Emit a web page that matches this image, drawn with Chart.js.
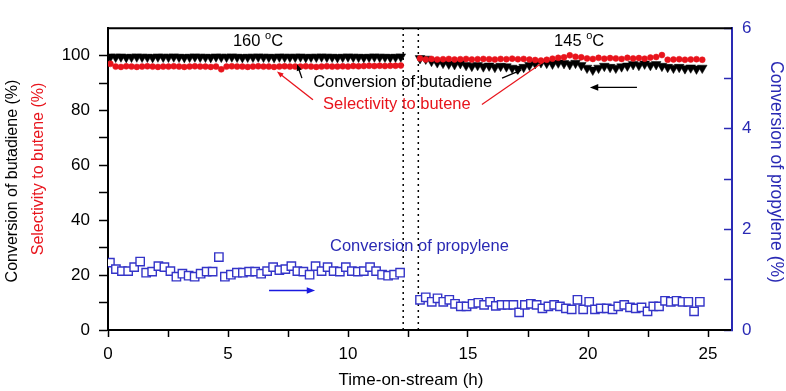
<!DOCTYPE html>
<html>
<head>
<meta charset="utf-8">
<script src="https://cdn.jsdelivr.net/npm/chart.js@4.4.1/dist/chart.umd.min.js"></script>
<style>
  body { margin: 0; background: #fff; }
  #chart { display: block; }
</style>
</head>
<body>
<canvas id="chart" width="786" height="391"></canvas>
<script>
// Time (h) for butadiene conversion / butene selectivity points
const timeMain = [
  0.10, 0.32, 0.54, 0.76, 0.98, 1.20, 1.42, 1.64, 1.86, 2.08, 2.30, 2.52, 2.74, 2.96,
  3.18, 3.40, 3.62, 3.84, 4.06, 4.28, 4.50, 4.72, 4.94, 5.16, 5.38, 5.60, 5.82, 6.04,
  6.26, 6.48, 6.70, 6.92, 7.14, 7.36, 7.58, 7.80, 8.02, 8.24, 8.46, 8.68, 8.90, 9.12,
  9.34, 9.56, 9.78, 10.00, 10.22, 10.44, 10.66, 10.88, 11.10, 11.32, 11.54, 11.76, 11.98, 12.20,
  13.00, 13.24, 13.48, 13.72, 13.96, 14.20, 14.44, 14.68, 14.92, 15.16, 15.40, 15.64, 15.88,
  16.12, 16.36, 16.60, 16.84, 17.08, 17.32, 17.56, 17.80, 18.04, 18.28, 18.52, 18.76, 19.00,
  19.24, 19.48, 19.72, 19.96, 20.20, 20.44, 20.68, 20.92, 21.16, 21.40, 21.64, 21.88, 22.12,
  22.36, 22.60, 22.84, 23.08, 23.32, 23.56, 23.80, 24.04, 24.28, 24.52, 24.76
];

// Conversion of butadiene (%)
const butadieneConv = [
  99.6, 99.5, 99.6, 99.4, 99.5, 99.6, 99.5, 99.5, 99.4, 99.6, 99.5, 99.5, 99.6, 99.5,
  99.4, 99.5, 99.6, 99.5, 99.5, 99.4, 99.6, 99.5, 99.5, 99.6, 99.5, 99.4, 99.5, 99.5,
  99.6, 99.5, 99.5, 99.4, 99.6, 99.5, 99.5, 99.5, 99.6, 99.4, 99.5, 99.5, 99.6, 99.5,
  99.5, 99.4, 99.5, 99.6, 99.5, 99.5, 99.4, 99.5, 99.6, 99.5, 99.5, 99.4, 99.5, 99.6,
  99.0, 98.8, 98.0, 97.5, 97.3, 97.0, 96.8, 97.2, 96.5, 96.2, 96.5, 96.0, 96.3,
  95.8, 96.2, 96.0, 95.5, 95.2, 95.8, 96.5, 97.2, 97.5, 97.3, 97.0, 97.4, 97.2,
  96.8, 97.3, 96.5, 95.5, 94.8, 95.5, 96.2, 95.8, 95.5, 96.0, 96.3, 96.8, 96.5,
  97.0, 96.5, 96.8, 96.2, 95.8, 95.5, 95.8, 95.3, 95.6, 95.2, 95.5
];

// Selectivity to butene (%)
const buteneSel = [
  97.0, 96.0, 95.9, 96.1, 96.0, 95.9, 96.0, 96.1, 96.0, 95.9, 96.0, 96.0, 96.1, 96.0,
  95.9, 96.0, 96.1, 96.0, 96.0, 95.9, 96.0, 95.0, 96.0, 96.1, 96.0, 96.0, 95.9, 96.0,
  96.1, 96.0, 96.0, 95.9, 96.0, 96.1, 96.0, 96.0, 96.0, 96.1, 96.0, 95.9, 96.0, 96.1,
  96.0, 96.0, 96.1, 96.0, 96.2, 96.1, 96.2, 96.3, 96.2, 96.3, 96.2, 96.3, 96.3, 96.4,
  99.0, 98.6, 98.8, 98.6, 98.7, 98.8, 98.6, 98.7, 98.8, 98.6, 98.7, 98.8, 98.7,
  98.6, 98.8, 98.7, 98.9, 98.7, 98.8, 98.6, 98.4, 98.2, 98.5, 98.9, 99.2, 99.4,
  100.1, 99.6, 99.4, 99.0, 98.8, 99.2, 98.9, 99.1, 99.0, 98.8, 99.2, 99.0, 99.1,
  98.9, 99.3, 99.5, 100.2, 98.5, 98.6, 98.7, 98.5, 98.6, 98.7, 98.5
];

// Time (h) for propylene conversion points
const timeProp = [
  0.08, 0.33, 0.58, 0.84, 1.09, 1.34, 1.59, 1.84, 2.10, 2.35, 2.60, 2.85, 3.10, 3.36,
  3.61, 3.86, 4.11, 4.36, 4.62, 4.87, 5.12, 5.37, 5.62, 5.88, 6.13, 6.38, 6.63, 6.88,
  7.14, 7.39, 7.64, 7.89, 8.14, 8.40, 8.65, 8.90, 9.15, 9.40, 9.66, 9.91, 10.16, 10.41,
  10.66, 10.92, 11.17, 11.42, 11.67, 11.92, 12.17,
  13.00, 13.24, 13.49, 13.73, 13.97, 14.22, 14.46, 14.70, 14.94, 15.19, 15.43, 15.67,
  15.92, 16.16, 16.40, 16.65, 16.89, 17.13, 17.37, 17.62, 17.86, 18.10, 18.35, 18.59,
  18.83, 19.08, 19.32, 19.56, 19.80, 20.05, 20.29, 20.53, 20.78, 21.02, 21.26, 21.51,
  21.75, 21.99, 22.23, 22.48, 22.72, 22.96, 23.21, 23.45, 23.69, 23.94, 24.18, 24.42, 24.66
];

// Conversion of propylene (%), right axis
const propyleneConv = [
  1.34, 1.21, 1.17, 1.17, 1.25, 1.36, 1.14, 1.16, 1.27, 1.25, 1.17, 1.06, 1.12, 1.08,
  1.06, 1.12, 1.16, 1.16, 1.45, 1.06, 1.10, 1.14, 1.14, 1.16, 1.16, 1.12, 1.17, 1.25,
  1.19, 1.21, 1.27, 1.17, 1.16, 1.10, 1.27, 1.17, 1.25, 1.17, 1.16, 1.25, 1.17, 1.16,
  1.17, 1.25, 1.17, 1.10, 1.08, 1.10, 1.14,
  0.60, 0.65, 0.56, 0.63, 0.56, 0.60, 0.52, 0.47, 0.47, 0.52, 0.54, 0.50, 0.56, 0.48,
  0.50, 0.50, 0.50, 0.35, 0.50, 0.52, 0.50, 0.43, 0.47, 0.50, 0.47, 0.43, 0.41, 0.60,
  0.41, 0.56, 0.41, 0.43, 0.43, 0.41, 0.47, 0.50, 0.45, 0.43, 0.45, 0.37, 0.47, 0.47,
  0.58, 0.56, 0.58, 0.56, 0.56, 0.37, 0.56
];

// Temperature change boundaries (h)
const switchLines = [12.3, 12.93];

const RED = '#e8141c';
const BLUE = '#2a2ab4';
const FONT = "'Liberation Sans', Arial, sans-serif";

function toPoints(xs, ys) {
    return xs.map((x, i) => ({ x: x, y: ys[i] }));
}

function drawArrow(ctx, x1, y1, x2, y2, color, head) {
    const ang = Math.atan2(y2 - y1, x2 - x1);
    ctx.save();
    ctx.strokeStyle = color;
    ctx.fillStyle = color;
    ctx.lineWidth = 1.3;
    ctx.beginPath();
    ctx.moveTo(x1, y1);
    ctx.lineTo(x2 - Math.cos(ang) * head * 0.8, y2 - Math.sin(ang) * head * 0.8);
    ctx.stroke();
    ctx.beginPath();
    ctx.moveTo(x2, y2);
    ctx.lineTo(x2 - head * Math.cos(ang - 0.38), y2 - head * Math.sin(ang - 0.38));
    ctx.lineTo(x2 - head * Math.cos(ang + 0.38), y2 - head * Math.sin(ang + 0.38));
    ctx.closePath();
    ctx.fill();
    ctx.restore();
}

function drawTemp(ctx, label, cx, cy) {
    ctx.save();
    ctx.fillStyle = '#000';
    ctx.textBaseline = 'middle';
    ctx.textAlign = 'left';
    ctx.font = '16.5px ' + FONT;
    const w1 = ctx.measureText(label + ' ').width;
    const w3 = ctx.measureText('C').width;
    ctx.font = '11px ' + FONT;
    const w2 = ctx.measureText('o').width;
    let x = cx - (w1 + w2 + w3) / 2;
    ctx.font = '16.5px ' + FONT;
    ctx.fillText(label + ' ', x, cy);
    x += w1;
    ctx.font = '11px ' + FONT;
    ctx.fillText('o', x, cy - 5);
    x += w2;
    ctx.font = '16.5px ' + FONT;
    ctx.fillText('C', x, cy);
    ctx.restore();
}

const annotations = {
    id: 'annotations',
    beforeDatasetsDraw(chart) {
        const { ctx, chartArea, scales } = chart;
        ctx.save();
        ctx.strokeStyle = '#000';
        ctx.lineWidth = 1.5;
        ctx.setLineDash([2, 4]);
        switchLines.forEach(t => {
            const px = scales.x.getPixelForValue(t);
            ctx.beginPath();
            ctx.moveTo(px, chartArea.bottom);
            ctx.lineTo(px, chartArea.top);
            ctx.stroke();
        });
        ctx.restore();
    },
    afterDatasetsDraw(chart) {
        const { ctx, chartArea, scales } = chart;
        const X = v => scales.x.getPixelForValue(v);
        const Y = v => scales.y.getPixelForValue(v);

        // top frame
        ctx.save();
        ctx.strokeStyle = '#000';
        ctx.lineWidth = 2;
        ctx.beginPath();
        ctx.moveTo(chartArea.left, chartArea.top);
        ctx.lineTo(chartArea.right, chartArea.top);
        ctx.stroke();
        ctx.restore();

        drawTemp(ctx, '160', X(6.25), Y(105.3));
        drawTemp(ctx, '145', X(19.63), Y(105.3));

        ctx.save();
        ctx.font = '16.5px ' + FONT;
        ctx.textBaseline = 'middle';
        ctx.textAlign = 'left';
        ctx.fillStyle = '#000';
        ctx.fillText('Conversion of butadiene', X(8.55), Y(90.4));
        ctx.fillStyle = RED;
        ctx.fillText('Selectivity to butene', X(8.96), Y(82.2));
        ctx.fillStyle = BLUE;
        ctx.fillText('Conversion of propylene', X(9.25), Y(30.5));
        ctx.restore();

        drawArrow(ctx, X(8.08), Y(91.8), X(7.88), Y(96.9), '#000', 7);
        drawArrow(ctx, X(8.54), Y(83.9), X(7.04), Y(94.2), RED, 7);
        drawArrow(ctx, X(16.42), Y(91.8), X(17.25), Y(94.9), '#000', 7);
        ctx.save();
        ctx.strokeStyle = RED;
        ctx.lineWidth = 1.2;
        ctx.beginPath();
        ctx.moveTo(X(15.58), Y(82.2));
        ctx.lineTo(X(18.29), Y(98.6));
        ctx.stroke();
        ctx.restore();
        drawArrow(ctx, X(22.04), Y(88.4), X(20.08), Y(88.4), '#000', 9);
        drawArrow(ctx, X(6.71), Y(14.4), X(8.63), Y(14.4), '#1a1ae0', 9);
    },
    afterDraw(chart) {
        const { ctx } = chart;
        ctx.save();
        ctx.textAlign = 'center';
        ctx.textBaseline = 'middle';

        ctx.font = '16px ' + FONT;
        ctx.save();
        ctx.translate(13, 181);
        ctx.rotate(-Math.PI / 2);
        ctx.fillStyle = '#000';
        ctx.fillText('Conversion of butadiene (%)', 0, 0);
        ctx.restore();

        ctx.save();
        ctx.translate(39, 169);
        ctx.rotate(-Math.PI / 2);
        ctx.fillStyle = RED;
        ctx.fillText('Selectivity to butene (%)', 0, 0);
        ctx.restore();

        ctx.font = '17.5px ' + FONT;
        ctx.save();
        ctx.translate(776, 172);
        ctx.rotate(Math.PI / 2);
        ctx.fillStyle = BLUE;
        ctx.fillText('Conversion of propylene (%)', 0, 0);
        ctx.restore();

        ctx.font = '17px ' + FONT;
        ctx.fillStyle = '#000';
        ctx.fillText('Time-on-stream (h)', 411, 380);
        ctx.restore();
    }
};

new Chart(document.getElementById('chart'), {
    type: 'scatter',
    data: {
        datasets: [
            {
                label: 'Selectivity to butene',
                data: toPoints(timeMain, buteneSel),
                yAxisID: 'y',
                pointStyle: 'circle',
                pointRadius: 3,
                backgroundColor: RED,
                borderColor: RED,
                borderWidth: 0.5
            },
            {
                label: 'Conversion of butadiene',
                data: toPoints(timeMain, butadieneConv),
                yAxisID: 'y',
                pointStyle: 'triangle',
                rotation: 180,
                pointRadius: 5.6,
                backgroundColor: '#000',
                borderColor: '#000',
                borderWidth: 0.5
            },
            {
                label: 'Conversion of propylene',
                data: toPoints(timeProp, propyleneConv),
                yAxisID: 'y1',
                pointStyle: 'rect',
                pointRadius: 5.9,
                backgroundColor: '#fff',
                borderColor: '#3434c8',
                borderWidth: 1.4
            }
        ]
    },
    options: {
        responsive: false,
        animation: false,
        layout: { padding: { top: 8, left: 0, right: 0, bottom: 0 } },
        plugins: {
            legend: { display: false },
            tooltip: { enabled: false }
        },
        scales: {
            x: {
                type: 'linear',
                min: 0,
                max: 26,
                afterFit: s => { s.height = 61; },
                border: { color: '#000', width: 2 },
                grid: {
                    drawOnChartArea: false,
                    drawTicks: true,
                    tickLength: 7,
                    tickWidth: 1.5,
                    tickColor: '#000'
                },
                ticks: {
                    stepSize: 2.5,
                    includeBounds: false,
                    autoSkip: false,
                    maxRotation: 0,
                    padding: 7,
                    color: '#000',
                    font: { family: FONT, size: 17 },
                    callback: v => (v % 5 === 0 ? v : '')
                }
            },
            y: {
                type: 'linear',
                position: 'left',
                min: 0,
                max: 110,
                afterFit: s => { s.width = 108; },
                border: { color: '#000', width: 2 },
                grid: {
                    drawOnChartArea: false,
                    drawTicks: true,
                    tickLength: 9,
                    tickWidth: 1.5,
                    tickColor: c => (c.tick && c.tick.value > 100 ? 'rgba(0,0,0,0)' : '#000')
                },
                ticks: {
                    stepSize: 10,
                    autoSkip: false,
                    padding: 9,
                    color: '#000',
                    font: { family: FONT, size: 17 },
                    callback: v => (v % 20 === 0 && v <= 100 ? v : '')
                }
            },
            y1: {
                type: 'linear',
                position: 'right',
                min: 0,
                max: 6,
                afterFit: s => { s.width = 54; },
                border: { color: BLUE, width: 2 },
                grid: {
                    drawOnChartArea: false,
                    drawTicks: true,
                    tickLength: -8,
                    tickWidth: 1.5,
                    tickColor: BLUE
                },
                ticks: {
                    stepSize: 1,
                    autoSkip: false,
                    padding: 18,
                    color: BLUE,
                    font: { family: FONT, size: 17 },
                    callback: v => (v % 2 === 0 ? v : '')
                }
            }
        }
    },
    plugins: [annotations]
});
</script>
</body>
</html>
